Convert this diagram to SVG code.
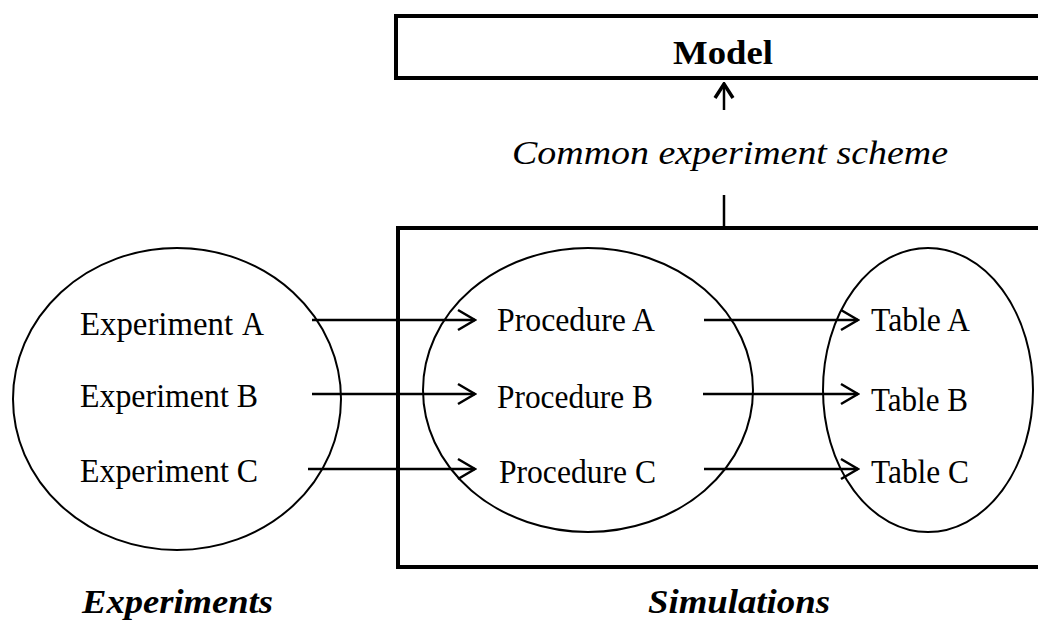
<svg xmlns="http://www.w3.org/2000/svg" width="1038" height="621" viewBox="0 0 1038 621">
<defs>
<marker id="chev" viewBox="0 0 20 24" refX="18" refY="12" markerWidth="20" markerHeight="24" markerUnits="userSpaceOnUse" orient="auto">
<path d="M1,2 L18,12 L1,22" fill="none" stroke="#000" stroke-width="2.5"/>
</marker>
<marker id="chevUp" viewBox="0 0 24 20" refX="12" refY="2" markerWidth="24" markerHeight="20" markerUnits="userSpaceOnUse" orient="0">
<path d="M3,16 L12,2 L21,16" fill="none" stroke="#000" stroke-width="3.5"/>
</marker>
</defs>
<style>
.box{fill:none;stroke:#000;stroke-width:4}
.ell{fill:none;stroke:#000;stroke-width:2}
.lbl{font-family:"Liberation Serif","Times New Roman",serif;font-size:34px;fill:#000}
.conn{stroke:#000;stroke-width:2.5;fill:none}
</style>
<rect width="1038" height="621" fill="#fff"/>
<g id="model">
<rect class="box" x="396" y="16" width="660" height="62"/>
<text class="lbl" x="673" y="64" font-weight="bold" font-size="33" textLength="100" lengthAdjust="spacingAndGlyphs">Model</text>
</g>
<g id="scheme-label">
<text class="lbl" x="512" y="164" font-style="italic" font-size="39" textLength="436" lengthAdjust="spacingAndGlyphs">Common experiment scheme</text>
</g>
<g id="simulations">
<rect class="box" x="398" y="228" width="660" height="339"/>
</g>
<g id="experiments">
<ellipse class="ell" cx="177" cy="399" rx="164" ry="151"/>
<text class="lbl" x="80" y="335" textLength="153" lengthAdjust="spacingAndGlyphs">Experiment</text>
<text class="lbl" x="242" y="335" font-size="37" textLength="22" lengthAdjust="spacingAndGlyphs">A</text>
<text class="lbl" x="80" y="407" textLength="178" lengthAdjust="spacingAndGlyphs">Experiment B</text>
<text class="lbl" x="80" y="482" textLength="178" lengthAdjust="spacingAndGlyphs">Experiment C</text>
</g>
<g id="procedures">
<ellipse class="ell" cx="588" cy="390" rx="165" ry="142"/>
<text class="lbl" x="497" y="331" textLength="158" lengthAdjust="spacingAndGlyphs">Procedure A</text>
<text class="lbl" x="497" y="408" textLength="156" lengthAdjust="spacingAndGlyphs">Procedure B</text>
<text class="lbl" x="499" y="483" textLength="157" lengthAdjust="spacingAndGlyphs">Procedure C</text>
</g>
<g id="tables">
<ellipse class="ell" cx="928" cy="390" rx="105" ry="142"/>
<text class="lbl" x="871" y="331" textLength="99" lengthAdjust="spacingAndGlyphs">Table A</text>
<text class="lbl" x="871" y="411" textLength="97" lengthAdjust="spacingAndGlyphs">Table B</text>
<text class="lbl" x="871" y="483" textLength="98" lengthAdjust="spacingAndGlyphs">Table C</text>
</g>
<g id="bottom-labels">
<text class="lbl" x="82" y="613" font-weight="bold" font-style="italic" font-size="36" textLength="191" lengthAdjust="spacingAndGlyphs">Experiments</text>
<text class="lbl" x="648" y="613" font-weight="bold" font-style="italic" font-size="36" textLength="182" lengthAdjust="spacingAndGlyphs">Simulations</text>
</g>
<g id="connectors">
<line class="conn" x1="724" y1="110" x2="724" y2="84" stroke-width="3" marker-end="url(#chevUp)"/>
<line class="conn" x1="724" y1="195" x2="724" y2="228" stroke-width="3"/>
<line class="conn" x1="312" y1="320" x2="475" y2="320" marker-end="url(#chev)"/>
<line class="conn" x1="312" y1="394" x2="475" y2="394" marker-end="url(#chev)"/>
<line class="conn" x1="308" y1="469" x2="475" y2="469" marker-end="url(#chev)"/>
<line class="conn" x1="704" y1="320" x2="858" y2="320" marker-end="url(#chev)"/>
<line class="conn" x1="703" y1="394" x2="858" y2="394" marker-end="url(#chev)"/>
<line class="conn" x1="704" y1="469" x2="858" y2="469" marker-end="url(#chev)"/>
</g>
</svg>
